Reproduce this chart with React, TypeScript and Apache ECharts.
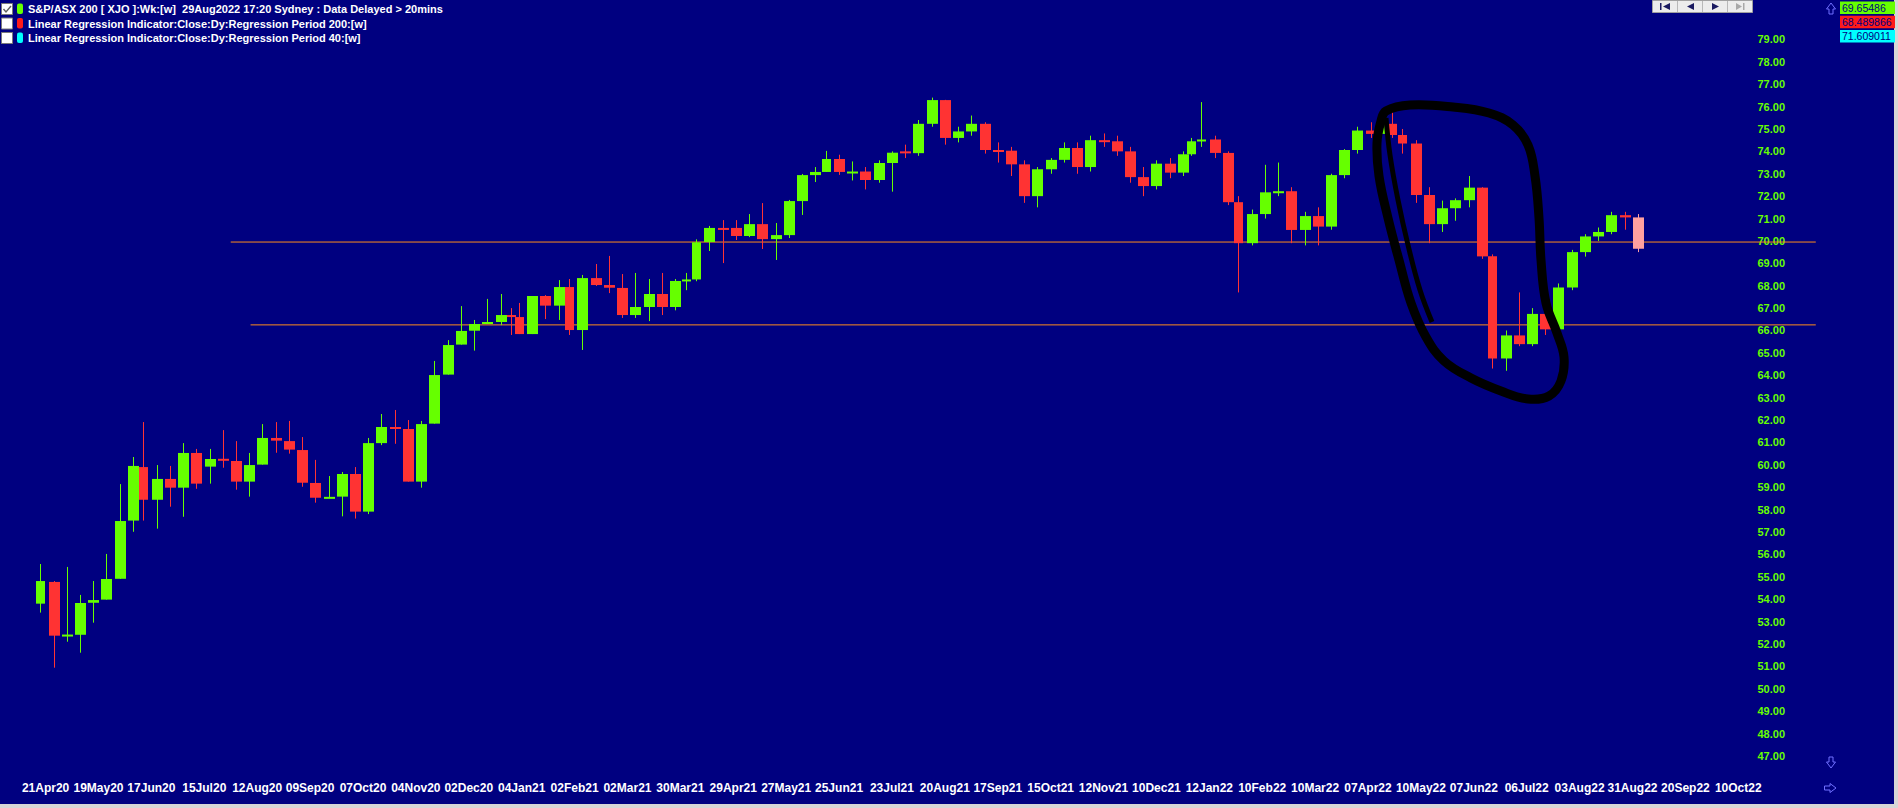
import React, { useEffect, useRef } from "react";
import * as echarts from "echarts";

// ---------- data ----------
const firstWeekMonday = "2020-04-13";
const asxHolidays = [
  "2020-04-13", "2020-06-08", "2020-12-25", "2020-12-28",
  "2021-01-01", "2021-01-26", "2021-04-02", "2021-04-05", "2021-06-14", "2021-12-27", "2021-12-28",
  "2022-01-03", "2022-01-26", "2022-04-15", "2022-04-18", "2022-04-25", "2022-06-13",
];

const opens = [
  53.80, 54.77, 52.38, 52.41, 53.84, 53.98, 54.91, 57.51, 59.90, 58.44,
  59.37, 58.98, 60.53, 59.92, 60.27, 60.17, 59.25, 60.01, 61.20, 61.06,
  60.66, 59.19, 58.53, 58.58, 59.59, 57.91, 60.97, 61.69, 61.60, 59.25,
  61.84, 64.03, 65.37, 65.99, 66.30, 66.38, 66.69, 66.60, 65.84, 67.54,
  67.11, 67.94, 66.02, 68.34, 68.03, 67.90, 66.69, 67.05, 67.63, 67.05,
  68.21, 68.28, 69.95, 70.58, 70.58, 70.22, 70.75, 70.08, 70.26, 71.78,
  72.94, 73.08, 73.66, 73.08, 73.10, 72.72, 73.48, 74.00, 73.92, 75.23,
  76.29, 74.60, 74.89, 75.23, 74.06, 74.03, 73.42, 72.00, 73.20, 73.62,
  74.15, 73.30, 74.50, 74.45, 74.00, 72.85, 72.45, 73.45, 73.05, 73.87,
  74.45, 74.53, 73.93, 71.73, 69.90, 71.20, 72.17, 72.22, 70.49, 71.11,
  70.64, 72.94, 74.06, 74.93, 74.78, 75.23, 74.73, 74.35, 72.05, 70.75,
  71.46, 71.82, 72.38, 69.31, 64.75, 65.78, 65.39, 66.74, 66.05, 67.92,
  69.50, 70.20, 70.40, 71.15, 71.05,
];
const highs = [
  55.57, 54.81, 55.44, 54.19, 54.81, 56.02, 59.14, 60.35, 61.91, 59.99,
  59.95, 60.97, 60.71, 60.71, 61.55, 61.06, 60.53, 61.82, 61.91, 61.96,
  61.24, 60.22, 59.50, 59.68, 59.90, 61.20, 62.27, 62.45, 62.00, 61.96,
  64.64, 65.57, 67.09, 66.47, 67.41, 67.63, 67.00, 67.23, 67.54, 67.58,
  68.25, 68.30, 68.48, 68.97, 69.33, 68.52, 68.57, 68.30, 68.57, 68.30,
  68.57, 70.07, 70.67, 70.93, 70.93, 71.20, 71.69, 70.80, 71.83, 72.99,
  73.30, 74.02, 73.85, 73.55, 73.30, 73.60, 74.00, 74.30, 75.40, 76.40,
  76.30, 75.10, 75.60, 75.30, 74.40, 74.20, 73.60, 73.30, 73.70, 74.40,
  74.40, 74.70, 74.80, 74.70, 74.20, 73.30, 73.60, 73.70, 74.00, 74.60,
  76.20, 74.70, 74.00, 72.00, 71.40, 73.40, 73.50, 72.40, 71.30, 71.50,
  73.00, 74.10, 75.10, 75.30, 75.50, 76.10, 75.00, 74.50, 72.40, 71.80,
  71.90, 72.90, 72.40, 69.40, 66.00, 67.70, 67.00, 67.10, 68.10, 69.60,
  70.30, 70.60, 71.30, 71.30, 71.20,
];
const lows = [
  53.40, 50.94, 52.10, 51.61, 52.95, 53.98, 54.91, 57.01, 57.51, 57.15,
  58.13, 57.68, 58.93, 59.16, 59.87, 58.89, 58.58, 60.01, 60.54, 60.50,
  59.02, 58.31, 58.53, 57.70, 57.60, 57.80, 60.88, 60.94, 59.25, 58.98,
  61.84, 64.03, 65.37, 65.10, 66.30, 66.24, 65.80, 65.84, 65.84, 66.51,
  66.47, 65.80, 65.13, 67.99, 67.67, 66.56, 66.56, 66.42, 66.69, 66.90,
  67.80, 68.20, 69.55, 69.01, 70.04, 70.17, 69.64, 69.15, 70.13, 71.16,
  72.63, 73.08, 72.95, 72.70, 72.30, 72.60, 72.20, 73.70, 73.80, 75.10,
  74.30, 74.40, 74.70, 73.90, 73.50, 72.90, 71.70, 71.50, 73.00, 73.50,
  73.00, 73.10, 74.20, 73.80, 72.60, 72.00, 72.30, 72.80, 72.90, 73.80,
  74.20, 73.70, 71.60, 67.70, 69.80, 71.00, 72.00, 69.90, 69.80, 69.80,
  70.50, 72.80, 73.90, 74.60, 74.60, 74.60, 73.90, 71.70, 69.90, 70.40,
  70.90, 71.50, 69.20, 64.30, 64.20, 65.30, 65.30, 65.80, 65.90, 67.80,
  69.30, 70.00, 70.30, 70.50, 69.50,
];
const closes = [
  54.81, 52.37, 52.42, 53.83, 53.96, 54.90, 57.49, 59.95, 58.44, 59.37,
  58.98, 60.53, 59.16, 60.26, 60.18, 59.25, 59.99, 61.20, 61.08, 60.68,
  59.20, 58.53, 58.57, 59.59, 57.91, 60.97, 61.69, 61.61, 59.25, 61.82,
  64.01, 65.35, 65.98, 66.29, 66.38, 66.69, 66.60, 65.84, 67.54, 67.11,
  67.94, 66.02, 68.34, 68.03, 67.91, 66.69, 67.05, 67.63, 67.05, 68.21,
  68.28, 69.94, 70.58, 70.53, 70.22, 70.75, 70.08, 70.26, 71.78, 72.94,
  73.08, 73.66, 73.08, 73.10, 72.72, 73.48, 73.94, 73.92, 75.23, 76.29,
  74.60, 74.89, 75.23, 74.06, 74.03, 73.42, 72.00, 73.20, 73.62, 74.15,
  73.30, 74.50, 74.45, 74.00, 72.85, 72.45, 73.45, 73.05, 73.87, 74.45,
  74.53, 73.93, 71.73, 69.90, 71.20, 72.17, 72.22, 70.49, 71.11, 70.64,
  72.94, 74.06, 74.93, 74.78, 75.23, 74.73, 74.35, 72.05, 70.75, 71.46,
  71.82, 72.38, 69.31, 64.75, 65.78, 65.39, 66.74, 66.05, 67.92, 69.50,
  70.20, 70.40, 71.15, 71.05, 69.65,
];

const tickLabels = [
  "21Apr20", "19May20", "17Jun20", "15Jul20", "12Aug20", "09Sep20", "07Oct20", "04Nov20", "02Dec20",
  "04Jan21", "02Feb21", "02Mar21", "30Mar21", "29Apr21", "27May21", "25Jun21", "23Jul21", "20Aug21",
  "17Sep21", "15Oct21", "12Nov21", "10Dec21", "12Jan22", "10Feb22", "10Mar22", "07Apr22", "10May22",
  "07Jun22", "06Jul22", "03Aug22", "31Aug22", "20Sep22", "10Oct22",
];
const priceTicks = [
  47, 48, 49, 50, 51, 52, 53, 54, 55, 56, 57, 58, 59, 60, 61, 62, 63,
  64, 65, 66, 67, 68, 69, 70, 71, 72, 73, 74, 75, 76, 77, 78, 79,
];

const levelValues = [69.95, 66.25];
const levelStartDays = [72, 79.5];
const levelEndDay = 671.3;

const legendRows = [
  { text: "S&P/ASX 200 [ XJO ]:Wk:[w]  29Aug2022 17:20 Sydney : Data Delayed > 20mins", color: "#66ff00", checked: true },
  { text: "Linear Regression Indicator:Close:Dy:Regression Period 200:[w]", color: "#ff1a1a", checked: false },
  { text: "Linear Regression Indicator:Close:Dy:Regression Period 40:[w]", color: "#00ffff", checked: false },
];
const valueBoxes = [
  { text: "69.65486", color: "#66ff00" },
  { text: "68.489866", color: "#ff1a1a" },
  { text: "71.609011", color: "#00ffff" },
];

// ---------- styling ----------
const NAVY = "#000080";
const GREEN = "#66ff00";
const RED = "#ff3333";
const PINK = "#ffa0a0";
const ORANGE = "#ff8c1a";

// ---------- trading-day calendar ----------
const DAY = 86400000;
function iso(t: number) {
  return new Date(t).toISOString().slice(0, 10);
}
function buildCandles() {
  const hol = new Set(asxHolidays);
  const [y, m, d] = firstWeekMonday.split("-").map(Number);
  const start = Date.UTC(y, m - 1, d);
  const end = start + (closes.length * 7 + 7) * DAY;
  const index = new Map<string, number>();
  let i = 0;
  for (let t = start; t <= end; t += DAY) {
    const dow = new Date(t).getUTCDay();
    if (dow === 0 || dow === 6) continue;
    const s = iso(t);
    if (hol.has(s)) continue;
    index.set(s, i++);
  }
  const rows: number[][] = [];
  let origin = 0;
  for (let k = 0; k < closes.length; k++) {
    const mon = start + k * 7 * DAY;
    let last = -1;
    let count = 0;
    for (let j = 0; j < 5; j++) {
      const s = iso(mon + j * DAY);
      if (index.has(s)) {
        last = index.get(s)!;
        count++;
      }
    }
    if (k === 0) origin = last;
    rows.push([last - origin, opens[k], closes[k], lows[k], highs[k], count >= 5 ? 11 : 9, k === closes.length - 1 ? 1 : 0]);
  }
  return rows;
}

const X_MIN = -15.24;
const X_MAX = 672.9;
const Y_MIN = 46;
const Y_MAX = 80.76;

export default function App() {
  const ref = useRef<HTMLDivElement>(null);

  useEffect(() => {
    if (!ref.current) return;
    const chart = echarts.init(ref.current, undefined, { renderer: "svg" });
    const rows = buildCandles();
    const tickDays = tickLabels.map((_, i) => 2 + 20 * i);
    const labelByDay = new Map<number, string>();
    tickDays.forEach((dd, i) => labelByDay.set(dd, tickLabels[i]));

    const levelSeries = levelValues.map((v, i) => ({
      type: "line",
      silent: true,
      symbol: "none",
      data: [
        [levelStartDays[i], v],
        [levelEndDay, v],
      ],
      lineStyle: { color: ORANGE, width: 1 },
      z: 1,
    }));

    const graphic: any[] = [];
    // frame
    graphic.push({ type: "rect", shape: { x: 1894, y: 0, width: 4, height: 808 }, style: { fill: "#d6d6d6" }, silent: true });
    graphic.push({ type: "rect", shape: { x: 0, y: 804, width: 1898, height: 4 }, style: { fill: "#d6d6d6" }, silent: true });

    // legend rows
    legendRows.forEach((r, i) => {
      const top = 3 + i * 14.5;
      graphic.push({ type: "rect", shape: { x: 1.5, y: top + 0.5, width: 11, height: 11 }, style: { fill: "#ffffff", stroke: "#7a7a7a", lineWidth: 1 } });
      if (r.checked) {
        graphic.push({ type: "polyline", shape: { points: [[3.5, top + 6], [6, top + 9], [11, top + 3]] }, style: { stroke: "#606060", lineWidth: 1.4, fill: "none" } });
      }
      graphic.push({ type: "rect", shape: { x: 17, y: top + 0.5, width: 6, height: 10.5, r: 2 }, style: { fill: r.color } });
      graphic.push({
        type: "text",
        x: 28,
        y: top + 6,
        style: { text: r.text, fill: "#ffffff", font: 'bold 11px "Liberation Sans", Arial, sans-serif', verticalAlign: "middle" },
      });
    });

    // navigation buttons
    graphic.push({ type: "rect", shape: { x: 1652.5, y: 0.5, width: 100, height: 12 }, style: { fill: "#ececec", stroke: "#a0a0a0", lineWidth: 1 } });
    [1677.5, 1702.5, 1727.5].forEach((x) =>
      graphic.push({ type: "line", shape: { x1: x, y1: 1, x2: x, y2: 12 }, style: { stroke: "#b8b8b8", lineWidth: 1 } })
    );
    const navDark = "#1a1a60";
    graphic.push({ type: "rect", shape: { x: 1660, y: 3, width: 1.5, height: 7 }, style: { fill: navDark } });
    graphic.push({ type: "polygon", shape: { points: [[1670, 3], [1670, 10], [1663, 6.5]] }, style: { fill: navDark } });
    graphic.push({ type: "polygon", shape: { points: [[1694, 3], [1694, 10], [1687, 6.5]] }, style: { fill: navDark } });
    graphic.push({ type: "polygon", shape: { points: [[1712, 3], [1712, 10], [1719, 6.5]] }, style: { fill: navDark } });
    graphic.push({ type: "polygon", shape: { points: [[1736, 3], [1736, 10], [1742, 6.5]] }, style: { fill: "#a8a8a8" } });
    graphic.push({ type: "rect", shape: { x: 1743, y: 3, width: 1.5, height: 7 }, style: { fill: "#a8a8a8" } });

    // arrows
    const arrowStyle = { stroke: "#7070ff", lineWidth: 1, fill: "none" };
    graphic.push({ type: "polygon", shape: { points: [[1831, 3], [1835.5, 9], [1833, 9], [1833, 14], [1829, 14], [1829, 9], [1826.5, 9]] }, style: arrowStyle });
    graphic.push({ type: "polygon", shape: { points: [[1831, 768], [1835.5, 762], [1833, 762], [1833, 757], [1829, 757], [1829, 762], [1826.5, 762]] }, style: arrowStyle });
    graphic.push({ type: "polygon", shape: { points: [[1836, 788], [1830, 783.5], [1830, 786], [1824.5, 786], [1824.5, 790], [1830, 790], [1830, 792.5]] }, style: arrowStyle });

    // value boxes
    valueBoxes.forEach((b, i) => {
      const top = 1.5 + i * 14.2;
      graphic.push({ type: "rect", shape: { x: 1840, y: top, width: 55, height: 12.5 }, style: { fill: b.color } });
      graphic.push({
        type: "text",
        x: 1842,
        y: top + 6.5,
        style: { text: b.text, fill: NAVY, font: '10.5px "Liberation Sans", Arial, sans-serif', verticalAlign: "middle" },
      });
    });

    // hand-drawn loop annotation
    graphic.push({
      type: "polygon",
      shape: {
        points: [
          [1386, 111], [1410, 105], [1453, 107], [1489, 113], [1513, 125], [1528, 145], [1535, 176], [1539, 218],
          [1541, 260], [1546, 303], [1557, 333], [1564, 357], [1561, 381], [1549, 396], [1528, 399], [1501, 391],
          [1471, 378], [1444, 361], [1426, 337], [1411, 303], [1399, 260], [1388, 218], [1379, 176], [1377, 143], [1381, 121],
        ],
        smooth: 0.4,
      },
      style: { fill: "none", stroke: "#000000", lineWidth: 9 },
      z: 100,
    });
    graphic.push({
      type: "polyline",
      shape: { points: [[1386, 118], [1390, 155], [1398, 200], [1408, 245], [1420, 290], [1432, 322]], smooth: 0.4 },
      style: { fill: "none", stroke: "#000000", lineWidth: 5 },
      z: 100,
    });

    const option: any = {
      animation: false,
      backgroundColor: NAVY,
      grid: { left: 0, right: 78, top: 0, bottom: 29.7, containLabel: false, outerBoundsMode: "none" },
      xAxis: {
        type: "value",
        min: X_MIN,
        max: X_MAX,
        axisLine: { show: false },
        axisTick: { show: false },
        splitLine: { show: false },
        axisLabel: {
          customValues: tickDays,
          formatter: (v: number) => labelByDay.get(Math.round(v)) ?? "",
          color: "#ffffff",
          fontWeight: "bold",
          fontSize: 12,
          fontFamily: '"Liberation Sans Narrow", "Liberation Sans", Arial, sans-serif',
          margin: 4,
          hideOverlap: false,
        },
      },
      yAxis: {
        type: "value",
        position: "right",
        min: Y_MIN,
        max: Y_MAX,
        axisLine: { show: false },
        axisTick: { show: false },
        splitLine: { show: false },
        axisLabel: {
          inside: true,
          margin: 35,
          customValues: priceTicks,
          formatter: (v: number) => v.toFixed(2),
          color: GREEN,
          fontWeight: "bold",
          fontSize: 11,
          fontFamily: '"Liberation Sans", Arial, sans-serif',
        },
      },
      series: [
        ...levelSeries,
        {
          type: "custom",
          silent: true,
          data: rows,
          encode: { x: 0, y: [1, 2, 3, 4] },
          z: 2,
          renderItem: (_params: any, api: any) => {
            const x = api.value(0);
            const o = api.value(1);
            const c = api.value(2);
            const l = api.value(3);
            const h = api.value(4);
            const w = api.value(5);
            const last = api.value(6);
            const po = api.coord([x, o]);
            const pc = api.coord([x, c]);
            const pl = api.coord([x, l]);
            const ph = api.coord([x, h]);
            const color = last ? PINK : c >= o ? GREEN : RED;
            const cx = Math.round(po[0]) + 0.5;
            const top = Math.min(po[1], pc[1]);
            const bh = Math.max(2, Math.abs(po[1] - pc[1]));
            return {
              type: "group",
              children: [
                { type: "line", shape: { x1: cx, y1: ph[1], x2: cx, y2: pl[1] }, style: { stroke: color, lineWidth: 1 } },
                { type: "rect", shape: { x: cx - w / 2, y: top, width: w, height: bh }, style: { fill: color } },
              ],
            };
          },
        },
      ],
      graphic,
    };
    chart.setOption(option);
    return () => chart.dispose();
  }, []);

  return (
    <div
      ref={ref}
      style={{ position: "fixed", left: 0, top: 0, width: 1898, height: 808, background: NAVY }}
    />
  );
}
